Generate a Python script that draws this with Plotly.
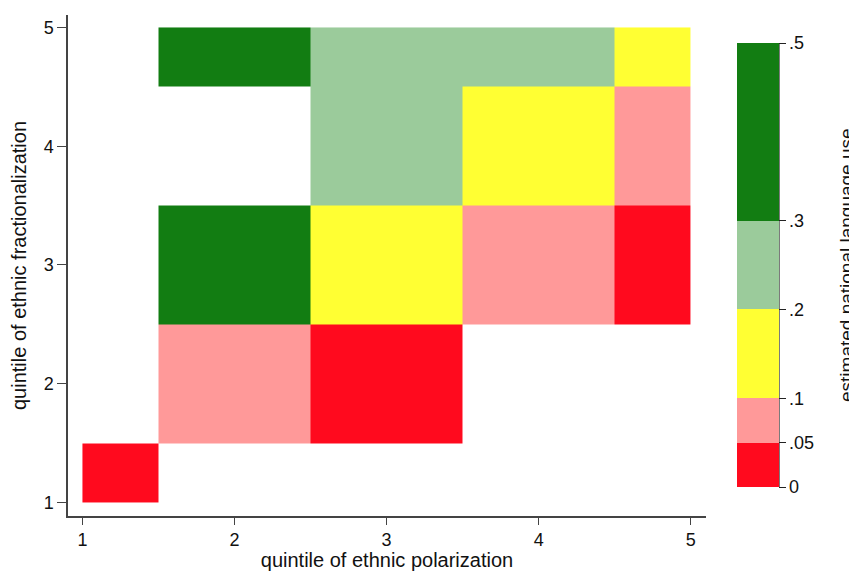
import plotly.graph_objects as go

# ---- data ----
x_edges = [1, 1.5, 2.5, 3.5, 4.5, 5]          # quintile of ethnic polarization (cells centred on 1..5)
y_edges = [1, 1.5, 2.5, 3.5, 4.5, 5]          # quintile of ethnic fractionalization
x_ticks = [1, 2, 3, 4, 5]
y_ticks = [1, 2, 3, 4, 5]
# estimated national language use, rows = fractionalization quintile 1..5, cols = polarization 1..5
z_q1 = [0.03, None, None, None, None]
z_q2 = [None, 0.07, 0.03, None, None]
z_q3 = [None, 0.40, 0.15, 0.07, 0.03]
z_q4 = [None, None, 0.25, 0.15, 0.07]
z_q5 = [None, 0.40, 0.25, 0.25, 0.15]
cb_vals = [0, 0.05, 0.1, 0.2, 0.3, 0.5]
cb_text = ["0", ".05", ".1", ".2", ".3", ".5"]
bin_colors = ["#FF0A1E", "#FF9999", "#FFFF33", "#9BCB9B", "#127D12"]

zmin, zmax = 0.0, 0.5
colorscale = []
for i, c in enumerate(bin_colors):
    lo = (cb_vals[i] - zmin) / (zmax - zmin)
    hi = (cb_vals[i + 1] - zmin) / (zmax - zmin)
    colorscale.append([lo, c])
    colorscale.append([hi, c])

# page body has an 8px margin; lay out in screen pixels and compensate
OFF = 8
SW, SH = 857, 571
W, H = SW - OFF, SH - OFF
plot_l, plot_r, plot_t, plot_b = 68, 706, 15, 516      # screen px
ml, mr, mt, mb = plot_l - OFF, SW - plot_r, plot_t - OFF, SH - plot_b
font = "Liberation Sans, Arial, Helvetica, sans-serif"

cb_left, cb_top, cb_bottom, cb_w = 737, 43, 487, 42   # screen px


def px_x(px):
    return (px - plot_l) / (plot_r - plot_l)


def px_y(py):
    return (plot_b - py) / (plot_b - plot_t)


fig = go.Figure(go.Heatmap(
    x=x_edges, y=y_edges,
    z=[z_q1, z_q2, z_q3, z_q4, z_q5],
    zmin=zmin, zmax=zmax,
    colorscale=colorscale,
    hoverongaps=False,
    colorbar=dict(
        xref="paper", yref="paper",
        x=px_x(cb_left), xanchor="left",
        y=px_y(cb_bottom), yanchor="bottom",
        len=cb_bottom - cb_top, lenmode="pixels",
        thickness=cb_w, thicknessmode="pixels",
        xpad=0, ypad=0,
        outlinewidth=0,
        tickmode="array", tickvals=cb_vals, ticktext=cb_text,
        ticks="outside", ticklen=7, tickwidth=1, tickcolor="#222",
        tickfont=dict(size=18, color="#111", family=font),
    ),
))

fig.update_layout(
    width=W, height=H,
    margin=dict(l=ml, r=mr, t=mt, b=mb, autoexpand=False),
    paper_bgcolor="white", plot_bgcolor="white",
    font=dict(family=font, color="#111"),
    xaxis=dict(
        range=[0.905, 5.10], tickmode="array", tickvals=x_ticks,
        showgrid=False, zeroline=False, automargin=False,
        showline=True, linecolor="#444", linewidth=1.5,
        ticks="outside", ticklen=7, tickcolor="#444", tickwidth=1,
        tickfont=dict(size=18),
        title=dict(text="quintile of ethnic polarization", font=dict(size=20), standoff=1),
    ),
    yaxis=dict(
        range=[0.886, 5.105], tickmode="array", tickvals=y_ticks,
        showgrid=False, zeroline=False, automargin=False,
        showline=True, linecolor="#444", linewidth=1.5,
        ticks="outside", ticklen=9, tickcolor="#444", tickwidth=1,
        tickfont=dict(size=18),
        title=dict(text="quintile of ethnic fractionalization", font=dict(size=20), standoff=12),
    ),
    annotations=[dict(
        text="estimated national language use",
        xref="paper", yref="paper",
        x=px_x(846), y=px_y((cb_top + cb_bottom) / 2),
        xanchor="center", yanchor="middle",
        textangle=-90, showarrow=False,
        font=dict(size=19, color="#111", family=font),
    )],
    shapes=[dict(
        type="line", xref="paper", yref="paper",
        x0=px_x(cb_left + cb_w), x1=px_x(cb_left + cb_w),
        y0=px_y(cb_bottom), y1=px_y(cb_top),
        line=dict(color="#222", width=1.2),
    )],
)

fig.write_html("out.html")
